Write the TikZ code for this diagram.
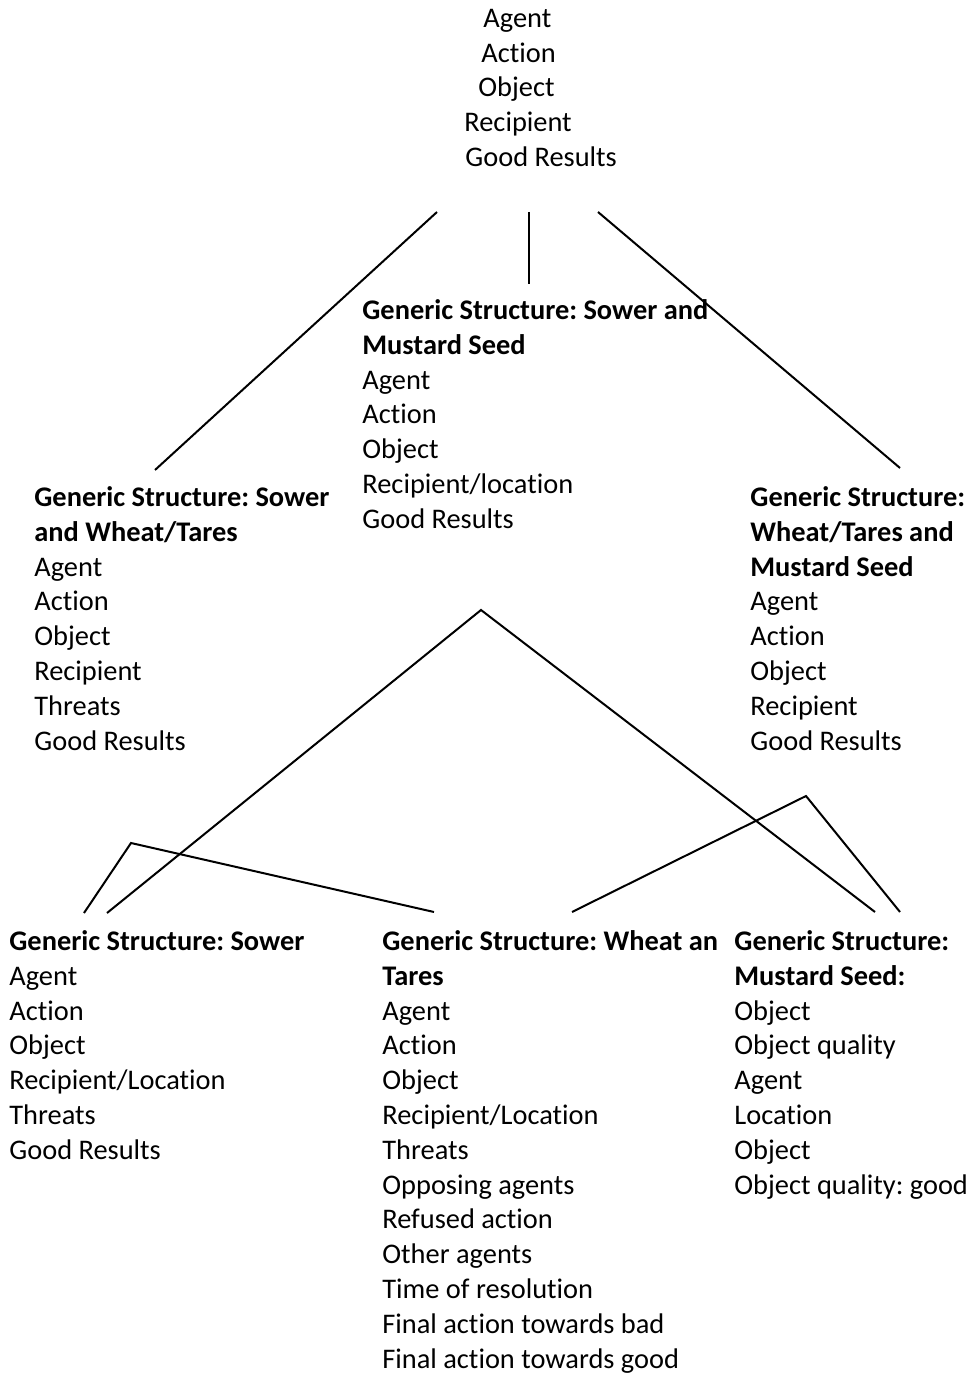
\documentclass[tikz,border=0pt]{standalone}
\usepackage{fontspec}
\setmainfont{Carlito}[Ligatures=CommonOff]
\frenchspacing
\begin{document}
\begin{tikzpicture}[x=0.5pt,y=-0.5pt,
  block/.style={anchor=north west,inner sep=0pt,align=left,
    font=\fontsize{14.2}{17.4}\selectfont},
  link/.style={line width=1pt,black}]
\useasboundingbox (0,0) rectangle (972,1374);
% first line baselines sit 20 units below each block's top edge
\newcommand{\fl}{\rule{0pt}{10pt}}

\node[block] (top) at (464,7) {\fl\hspace*{9.5pt}Agent\\\hspace*{8.5pt}Action\\\hspace*{7pt}Object\\Recipient\\\hspace*{0.5pt}Good Results};

\node[block] (mid) at (362,299) {\fl\textbf{Generic Structure: Sower and}\\\textbf{Mustard Seed}\\Agent\\Action\\Object\\Recipient/location\\Good Results};

\node[block] (left) at (34,486) {\fl\textbf{Generic Structure: Sower}\\\textbf{and Wheat/Tares}\\Agent\\Action\\Object\\Recipient\\Threats\\Good Results};

\node[block] (right) at (750,486) {\fl\textbf{Generic Structure:}\\\textbf{Wheat/Tares and}\\\textbf{Mustard Seed}\\Agent\\Action\\Object\\Recipient\\Good Results};

\node[block] (sower) at (9,930) {\fl\textbf{Generic Structure: Sower}\\Agent\\Action\\Object\\Recipient/Location\\Threats\\Good Results};

\node[block] (wheat) at (382,930) {\fl\textbf{Generic Structure: Wheat an}\\\textbf{Tares}\\Agent\\Action\\Object\\Recipient/Location\\Threats\\Opposing agents\\Refused action\\Other agents\\Time of resolution\\Final action towards bad\\Final action towards good};

\node[block] (mustard) at (734,930) {\fl\textbf{Generic Structure:}\\\textbf{Mustard Seed:}\\Object\\Object quality\\Agent\\Location\\Object\\Object quality: good};

% end points of the connecting lines
\coordinate (t1) at (437,212);
\coordinate (t2) at (529,212);
\coordinate (t3) at (598,212);
\coordinate (l1) at (155,470);
\coordinate (m1) at (529,284);
\coordinate (r1) at (900,468);
\coordinate (apex) at (481,610);
\coordinate (s1) at (107,913);
\coordinate (ms1) at (875,912);
\coordinate (s2) at (84,913);
\coordinate (peakL) at (131,843);
\coordinate (w1) at (434,912);
\coordinate (w2) at (572,912);
\coordinate (peakR) at (806,796);
\coordinate (ms2) at (900,912);

\draw[link] (t1) -- (l1);
\draw[link] (t2) -- (m1);
\draw[link] (t3) -- (r1);
\draw[link] (s1) -- (apex) -- (ms1);
\draw[link] (s2) -- (peakL) -- (w1);
\draw[link] (w2) -- (peakR) -- (ms2);
\end{tikzpicture}
\end{document}
